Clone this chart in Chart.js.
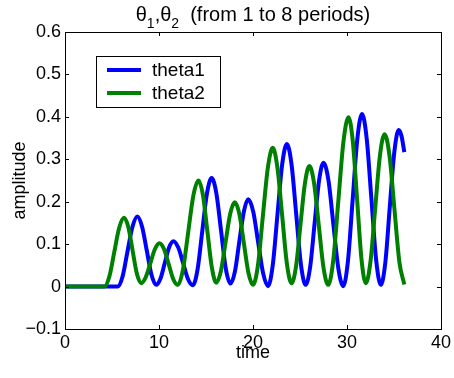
<!DOCTYPE html>
<html>
<head>
<meta charset="utf-8">
<script src="https://cdn.jsdelivr.net/npm/chart.js@4.4.0/dist/chart.umd.min.js"></script>
<style>
    html, body { margin: 0; padding: 0; background: #fff; }
</style>
</head>
<body>
<canvas id="theta_chart" width="454" height="378"></canvas>
<script>
// values (time, amplitude)
const time1 = [0, 5.6, 6.13, 6.65, 7.18, 7.7, 8.2, 8.7, 9.2, 9.7, 10.16, 10.62, 11.07, 11.53, 12.05, 12.57, 13.08, 13.6,
    14.1, 14.6, 15.1, 15.6, 16.1, 16.6, 17.1, 17.6, 18.08, 18.55, 19.03, 19.5, 20.03, 20.55, 21.08, 21.6,
    22.1, 22.6, 23.1, 23.6, 24.1, 24.6, 25.1, 25.6, 26.08, 26.55, 27.03, 27.5, 28.03, 28.55, 29.08, 29.6,
    30.1, 30.6, 31.1, 31.6, 32.1, 32.6, 33.1, 33.6, 34.08, 34.55, 35.03, 35.5, 35.8, 36.1];
const theta1 = [0, 0, 0.024, 0.083, 0.141, 0.165, 0.141, 0.085, 0.028, 0.004, 0.019, 0.056, 0.092, 0.107, 0.092, 0.055, 0.018, 0.003,
    0.040, 0.130, 0.219, 0.256, 0.220, 0.132, 0.043, 0.007, 0.036, 0.107, 0.177, 0.206, 0.176, 0.104, 0.031, 0.001,
    0.050, 0.169, 0.287, 0.336, 0.288, 0.170, 0.052, 0.004, 0.046, 0.148, 0.250, 0.292, 0.250, 0.147, 0.043, 0.001,
    0.060, 0.204, 0.348, 0.407, 0.348, 0.206, 0.063, 0.004, 0.057, 0.187, 0.316, 0.369, 0.355, 0.317];

const time2 = [0, 4.2, 4.72, 5.24, 5.76, 6.28, 6.74, 7.19, 7.65, 8.1, 8.59, 9.08, 9.56, 10.05, 10.54, 11.03, 11.51, 12.0,
    12.55, 13.1, 13.65, 14.2, 14.68, 15.15, 15.63, 16.1, 16.59, 17.08, 17.57, 18.06, 18.55, 19.03, 19.52, 20.0,
    20.53, 21.05, 21.58, 22.1, 22.6, 23.1, 23.6, 24.1, 24.58, 25.05, 25.53, 26.0, 26.5, 27.0, 27.5, 28.0,
    28.54, 29.08, 29.62, 30.16, 30.62, 31.08, 31.54, 32.0, 32.5, 33.0, 33.5, 34.0, 34.53, 35.05, 35.58, 36.1];
const theta2 = [0, 0, 0.024, 0.081, 0.138, 0.162, 0.140, 0.085, 0.030, 0.008, 0.022, 0.055, 0.088, 0.102, 0.088, 0.053, 0.018, 0.004,
    0.040, 0.127, 0.214, 0.250, 0.215, 0.130, 0.044, 0.009, 0.037, 0.104, 0.171, 0.199, 0.171, 0.102, 0.032, 0.004,
    0.051, 0.166, 0.280, 0.327, 0.280, 0.168, 0.055, 0.008, 0.048, 0.146, 0.244, 0.284, 0.243, 0.144, 0.045, 0.004,
    0.062, 0.202, 0.341, 0.399, 0.342, 0.204, 0.065, 0.008, 0.059, 0.184, 0.308, 0.359, 0.307, 0.182, 0.057, 0.005];

const seriesNames = ['theta1', 'theta2'];
const xTicks = [0, 10, 20, 30, 40];
const yTicks = [-0.1, 0, 0.1, 0.2, 0.3, 0.4, 0.5, 0.6];

const FONT = "'Liberation Sans', Arial, Helvetica, sans-serif";

function toPoints(xs, ys) {
    return xs.map((x, i) => ({x: x, y: ys[i]}));
}

// matlab style box with inward ticks on every side
const boxPlugin = {
    id: 'boxPlugin',
    afterDatasetsDraw(chart) {
        const {ctx, chartArea: a, scales} = chart;
        const len = 4;
        ctx.save();
        ctx.strokeStyle = '#000';
        ctx.lineWidth = 1;
        ctx.beginPath();
        xTicks.forEach(v => {
            const px = Math.round(scales.x.getPixelForValue(v)) + 0.5;
            ctx.moveTo(px, a.bottom);
            ctx.lineTo(px, a.bottom - len);
            ctx.moveTo(px, a.top);
            ctx.lineTo(px, a.top + len);
        });
        yTicks.forEach(v => {
            const py = Math.round(scales.y.getPixelForValue(v)) + 0.5;
            ctx.moveTo(a.left, py);
            ctx.lineTo(a.left + len, py);
            ctx.moveTo(a.right, py);
            ctx.lineTo(a.right - len, py);
        });
        ctx.stroke();
        ctx.strokeRect(Math.round(a.left) + 0.5, Math.round(a.top) + 0.5,
            Math.round(a.right - a.left), Math.round(a.bottom - a.top));
        ctx.restore();
    }
};

// title with subscripts, and the legend box inside the axes
const textPlugin = {
    id: 'textPlugin',
    afterDraw(chart) {
        const {ctx, chartArea: a} = chart;
        ctx.save();
        ctx.fillStyle = '#000';
        ctx.textBaseline = 'alphabetic';
        const big = '20px ' + FONT;
        const small = '14px ' + FONT;
        const parts = [
            ['\u03b8', big, 0], ['1', small, 7], [',', big, 0],
            ['\u03b8', big, 0], ['2', small, 7], ['  (from 1 to 8 periods)', big, 0]
        ];
        let total = 0;
        parts.forEach(p => { ctx.font = p[1]; total += ctx.measureText(p[0]).width; });
        let x = (a.left + a.right) / 2 - total / 2;
        const base = 21;
        parts.forEach(p => {
            ctx.font = p[1];
            ctx.fillText(p[0], x, base + p[2]);
            x += ctx.measureText(p[0]).width;
        });

        // legend
        const lx = 96, ly = 56, lw = 124, lh = 51;
        ctx.fillStyle = '#fff';
        ctx.fillRect(lx, ly, lw, lh);
        ctx.strokeStyle = '#000';
        ctx.lineWidth = 1;
        ctx.strokeRect(lx + 0.5, ly + 0.5, lw, lh);
        const rows = [70, 93];
        chart.data.datasets.forEach((ds, i) => {
            ctx.strokeStyle = ds.borderColor;
            ctx.lineWidth = 4;
            ctx.beginPath();
            ctx.moveTo(107, rows[i]);
            ctx.lineTo(141, rows[i]);
            ctx.stroke();
            ctx.fillStyle = '#000';
            ctx.font = '19px ' + FONT;
            ctx.textBaseline = 'middle';
            ctx.fillText(ds.label, 152, rows[i] + 1);
        });
        ctx.restore();
    }
};

const ctx = document.getElementById('theta_chart').getContext('2d');
const thetaChart = new Chart(ctx, {
    type: 'line',
    data: {
        datasets: [{
            label: seriesNames[0],
            data: toPoints(time1, theta1),
            borderColor: '#0000ff',
            borderWidth: 4,
            pointRadius: 0,
            cubicInterpolationMode: 'monotone',
            fill: false,
            order: 1
        }, {
            label: seriesNames[1],
            data: toPoints(time2, theta2),
            borderColor: '#008000',
            borderWidth: 4,
            pointRadius: 0,
            cubicInterpolationMode: 'monotone',
            fill: false,
            order: 0
        }]
    },
    options: {
        responsive: false,
        animation: false,
        devicePixelRatio: 1,
        layout: {padding: {left: 0, top: 32, right: 11, bottom: 0}},
        plugins: {
            legend: {display: false},
            tooltip: {enabled: false}
        },
        scales: {
            x: {
                type: 'linear',
                min: 0,
                max: 40,
                afterBuildTicks: (scale) => { scale.ticks = xTicks.map(v => ({value: v})); },
                afterFit: (scale) => { scale.height = 49; },
                grid: {display: false, drawTicks: false},
                border: {display: false},
                ticks: {
                    color: '#000',
                    padding: 3,
                    maxRotation: 0,
                    font: {family: FONT, size: 18}
                },
                title: {
                    display: true,
                    text: 'time',
                    color: '#000',
                    font: {family: FONT, size: 18},
                    padding: {top: 0, bottom: 14}
                }
            },
            y: {
                min: -0.1,
                max: 0.6,
                afterBuildTicks: (scale) => { scale.ticks = yTicks.map(v => ({value: v})); },
                afterFit: (scale) => { scale.width = 65; },
                grid: {display: false, drawTicks: false},
                border: {display: false},
                ticks: {
                    color: '#000',
                    padding: 4,
                    font: {family: FONT, size: 18},
                    callback: function (value) {
                        const v = Math.round(value * 10) / 10;
                        if (v === 0) return '0';
                        return v < 0 ? '\u2212' + Math.abs(v).toFixed(1) : v.toFixed(1);
                    }
                },
                title: {
                    display: true,
                    text: 'amplitude',
                    color: '#000',
                    font: {family: FONT, size: 18},
                    padding: {top: 9, bottom: 0}
                }
            }
        }
    },
    plugins: [boxPlugin, textPlugin]
});
</script>
</body>
</html>
